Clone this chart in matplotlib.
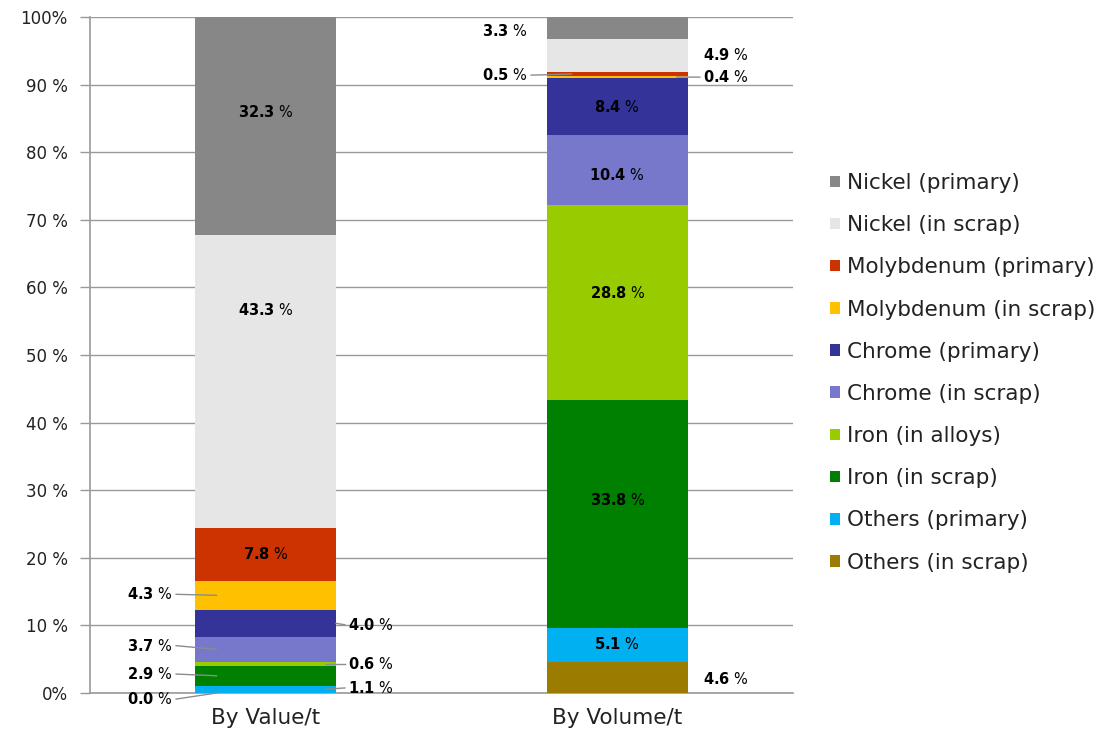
import matplotlib
matplotlib.use("Agg")
import matplotlib.pyplot as plt
import numpy as np
from matplotlib.patches import Patch

categories = ["By Value/t", "By Volume/t"]
series = ["Nickel (primary)", "Nickel (in scrap)", "Molybdenum (primary)", "Molybdenum (in scrap)",
          "Chrome (primary)", "Chrome (in scrap)", "Iron (in alloys)", "Iron (in scrap)",
          "Others (primary)", "Others (in scrap)"]
by_value = [32.3, 43.3, 7.8, 4.3, 4.0, 3.7, 0.6, 2.9, 1.1, 0.0]
by_volume = [3.3, 4.9, 0.5, 0.4, 8.4, 10.4, 28.8, 33.8, 5.1, 4.6]
colors = ["#878787", "#e6e6e6", "#cc3300", "#ffc000", "#333399", "#7777cc",
          "#99cc00", "#008000", "#00b0f0", "#9c7c00"]

# label placement: (mode, text x, text y, leader end x)  mode: 'in' inside, 'L' left, 'R' right
value_labels = [("in", 0, 85.9, None), ("in", 0, 56.7, None), ("in", 0, 20.6, None),
                ("L", -0.265, 14.6, -0.14), ("R", 0.235, 10.1, 0.20), ("L", -0.265, 7.0, -0.14),
                ("R", 0.235, 4.3, 0.17), ("L", -0.265, 2.8, -0.14), ("R", 0.235, 0.75, 0.17),
                ("L", -0.265, -0.9, -0.14)]
volume_labels = [("L", 0.745, 98.0, None), ("R", 1.245, 94.4, None), ("L", 0.745, 91.4, 0.87),
                 ("R", 1.245, 91.1, 1.17), ("in", 1, 86.7, None), ("in", 1, 76.6, None),
                 ("in", 1, 59.2, None), ("in", 1, 28.5, None), ("in", 1, 7.3, None),
                 ("R", 1.245, 2.1, None)]

fig = plt.figure(figsize=(11.17, 7.38), dpi=100)
ax = fig.add_axes([90/1117, 45/738, 703/1117, 676/738])

data = np.array([by_value, by_volume])
data = data / data.sum(axis=1, keepdims=True) * 100
x = np.arange(len(categories))
width = 0.4
bottoms = np.zeros(len(categories))
for i in range(len(series) - 1, -1, -1):
    ax.bar(x, data[:, i], width, bottom=bottoms, color=colors[i], label=series[i], zorder=3)
    bottoms += data[:, i]

raw = [by_value, by_volume]
for ci, labels in enumerate([value_labels, volume_labels]):
    bottom = 0.0
    midmap = {}
    for i in range(len(series) - 1, -1, -1):
        midmap[i] = bottom + data[ci, i] / 2
        bottom += data[ci, i]
    for i, (mode, tx, ty, lx) in enumerate(labels):
        txt = r"$\mathbf{" + f"{raw[ci][i]:.1f}" + r"}$ %"
        if mode == "in":
            ax.text(tx, ty, txt, ha="center", va="center", fontsize=10.5, zorder=5)
        else:
            ha = "right" if mode == "L" else "left"
            ax.text(tx, ty, txt, ha=ha, va="center", fontsize=10.5, zorder=5)
            if lx is not None:
                ax.plot([tx + (0.01 if mode == "L" else -0.01), lx], [ty, midmap[i]],
                        color="#8c8c8c", lw=1, zorder=4, clip_on=False)

ax.set_xlim(-0.5, 1.5)
ax.set_ylim(0, 100)
ax.set_yticks(np.arange(0, 101, 10))
ax.set_yticklabels([f"{v}%" if v in (0, 100) else f"{v} %" for v in range(0, 101, 10)],
                   fontsize=12, color="#222222")
ax.set_xticks(x)
ax.set_xticklabels(categories, fontsize=15.5, color="#222222")
ax.tick_params(axis="x", length=0, pad=11)
ax.tick_params(axis="y", length=7, color="#999999", width=1, pad=9)
ax.yaxis.grid(True, color="#999999", lw=1, zorder=0)
for s in ["top", "right"]:
    ax.spines[s].set_visible(False)
for s in ["left", "bottom"]:
    ax.spines[s].set_color("#999999")
    ax.spines[s].set_linewidth(1.2)

leg_handles = [Patch(facecolor=colors[i], edgecolor="none") for i in range(len(series))]
leg = fig.legend(leg_handles, series, loc="upper left", bbox_to_anchor=(830/1117, 1 - 173/738),
                 frameon=False, fontsize=15.5, handlelength=0.45, handleheight=0.45,
                 handletextpad=0.35, labelspacing=1.03, borderaxespad=0, borderpad=0)
for t in leg.get_texts():
    t.set_color("#222222")

fig.savefig("out.png", dpi=100)
